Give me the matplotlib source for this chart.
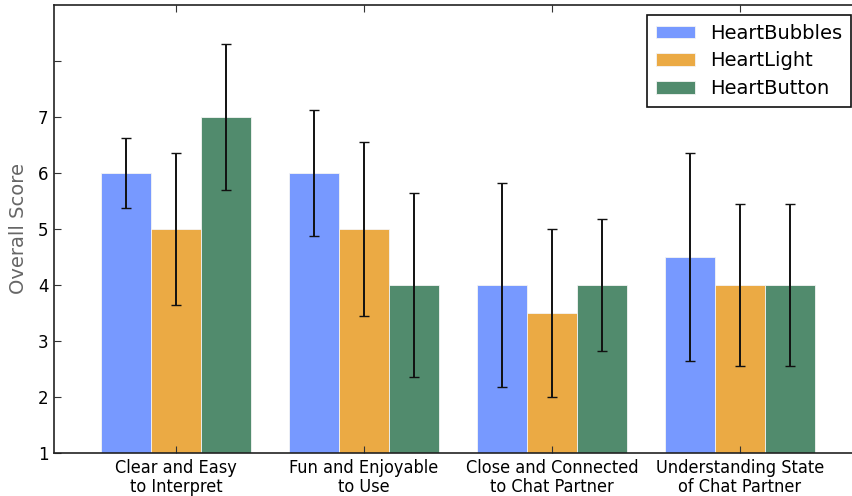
import matplotlib
matplotlib.use("Agg")
import matplotlib.pyplot as plt
import numpy as np

categories = ["Clear and Easy\nto Interpret", "Fun and Enjoyable\nto Use",
              "Close and Connected\nto Chat Partner", "Understanding State\nof Chat Partner"]
series_names = ["HeartBubbles", "HeartLight", "HeartButton"]
heartbubbles = [6.0, 6.0, 4.0, 4.5]
heartlight = [5.0, 5.0, 3.5, 4.0]
heartbutton = [7.0, 4.0, 4.0, 4.0]
err_bubbles = [0.62, 1.12, 1.82, 1.85]
err_light = [1.35, 1.56, 1.50, 1.44]
err_button = [1.30, 1.65, 1.17, 1.44]
ytick_vals = [1, 2, 3, 4, 5, 6, 7, 8]
ytick_labels = ["1", "2", "3", "4", "5", "6", "7", ""]

colors = ["#7799FF", "#EBAA44", "#518B6D"]
values = [heartbubbles, heartlight, heartbutton]
errs = [err_bubbles, err_light, err_button]

W, H = 852, 496
fig = plt.figure(figsize=(W / 100, H / 100), dpi=100)
ax_left, ax_right, ax_top, ax_bottom = 54, 862, 5, 453
ax = fig.add_axes([ax_left / W, 1 - ax_bottom / H, (ax_right - ax_left) / W, (ax_bottom - ax_top) / H])

idx = np.arange(len(categories))
width = 0.266
for i, (vals, er, c, name) in enumerate(zip(values, errs, colors, series_names)):
    ax.bar(idx + (i - 1) * width, vals, width, color=c, edgecolor="#f4f4f4", linewidth=0.6,
           label=name, zorder=1)
    ax.errorbar(idx + (i - 1) * width, vals, yerr=er, fmt="none", ecolor="#111111",
                elinewidth=1.4, capsize=3.6, capthick=1.0, zorder=3)

ax.set_xlim(-0.649, 3.65)
ax.set_ylim(1, 9)
ax.set_yticks(ytick_vals)
ax.set_yticklabels(ytick_labels, fontsize=12)
ax.set_xticks(idx)
ax.set_xticklabels(categories, fontsize=13, fontstretch="condensed", linespacing=1.1)
ax.tick_params(direction="in", length=5, top=True, right=True, color="#333333", pad=4)
ax.set_ylabel("Overall Score", fontsize=14, color="#666666", labelpad=7)
for s in ax.spines.values():
    s.set_linewidth(1.2)
    s.set_color("#222222")

leg = ax.legend(loc="upper right", bbox_to_anchor=(851 / W, 1 - 15 / H),
                bbox_transform=fig.transFigure, fontsize=14, fancybox=False,
                edgecolor="#111111", framealpha=1, borderaxespad=0,
                handlelength=2.0, handleheight=0.6, labelspacing=0.45,
                handletextpad=0.8, borderpad=0.45)
leg.get_frame().set_linewidth(1.2)

fig.savefig("out.png", dpi=100)
